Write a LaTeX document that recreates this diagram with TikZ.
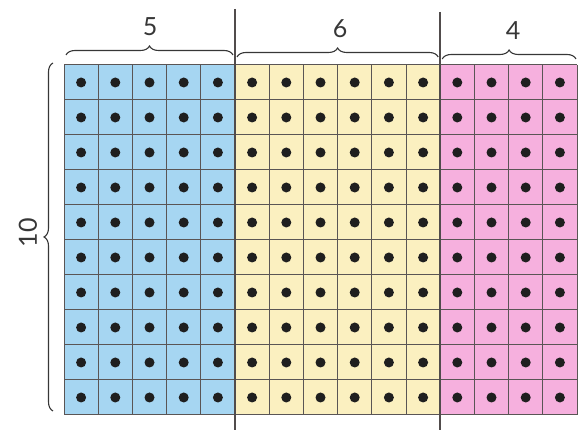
\documentclass[tikz,border=0pt]{standalone}
\usepackage{fontspec}
\setmainfont{Lato}
\usetikzlibrary{decorations.pathreplacing}
\definecolor{cblue}{RGB}{166,214,242}
\definecolor{cyellow}{RGB}{251,240,192}
\definecolor{cpink}{RGB}{246,176,222}
\definecolor{cgrid}{RGB}{90,85,85}
\definecolor{ctext}{RGB}{55,55,55}
\tikzset{
  gridline/.style={draw=cgrid, line width=1pt},
  dot/.style={fill=black!88},
  divider/.style={draw=cgrid!90!black, line width=1.5pt},
  bracebar/.style={draw=ctext, line width=1.1pt, decorate, decoration={brace, amplitude=9pt}},
  numlabel/.style={text=ctext, font=\fontsize{25}{27}\selectfont, inner sep=0pt}
}
\begin{document}
\begin{tikzpicture}[x=1pt,y=1pt]
\useasboundingbox (0,0) rectangle (580,430);
% grid geometry: x0=64, cell width 34.2; top y=365 (pix 65), row height 35
\def\xo{64}\def\cw{34.2}\def\yt{365}\def\rh{35}
% colored fills
\fill[cblue]   (\xo,\yt) rectangle ({\xo+5*\cw},{\yt-10*\rh});
\fill[cyellow] ({\xo+5*\cw},\yt) rectangle ({\xo+11*\cw},{\yt-10*\rh});
\fill[cpink]   ({\xo+11*\cw},\yt) rectangle ({\xo+15*\cw},{\yt-10*\rh});
% grid lines
\foreach \i in {0,...,15} \draw[gridline] ({\xo+\i*\cw},\yt) -- ({\xo+\i*\cw},{\yt-10*\rh});
\foreach \j in {0,...,10} \draw[gridline] (\xo,{\yt-\j*\rh}) -- ({\xo+15*\cw},{\yt-\j*\rh});
% dots
\foreach \i in {0,...,14} \foreach \j in {0,...,9}
  \fill[dot] ({\xo+(\i+0.5)*\cw},{\yt-(\j+0.5)*\rh}) circle (5);
% dividers
\coordinate (d1t) at ({\xo+5*\cw},421);
\coordinate (d1b) at ({\xo+5*\cw},0);
\coordinate (d2t) at ({\xo+11*\cw},418);
\coordinate (d2b) at ({\xo+11*\cw},0);
\draw[divider] (d1t) -- (d1b);
\draw[divider] (d2t) -- (d2b);
% braces
\coordinate (b1a) at (66,375);  \coordinate (b1b) at ({\xo+5*\cw-2},375);
\coordinate (b2a) at ({\xo+5*\cw+2},373); \coordinate (b2b) at ({\xo+11*\cw-2},373);
\coordinate (b3a) at ({\xo+11*\cw+2},371); \coordinate (b3b) at (576,371);
\coordinate (bla) at (53,19); \coordinate (blb) at (53,367);
\draw[bracebar] (b1a) -- (b1b);
\draw[bracebar] (b2a) -- (b2b);
\draw[bracebar] (b3a) -- (b3b);
\draw[bracebar] (bla) -- (blb);
% labels
\node[numlabel] (l5) at (150,403) {5};
\node[numlabel] (l6) at (340,401) {6};
\node[numlabel] (l4) at (513,399) {4};
\node[numlabel, rotate=90] (l10) at (28,197) {10};
\end{tikzpicture}
\end{document}
